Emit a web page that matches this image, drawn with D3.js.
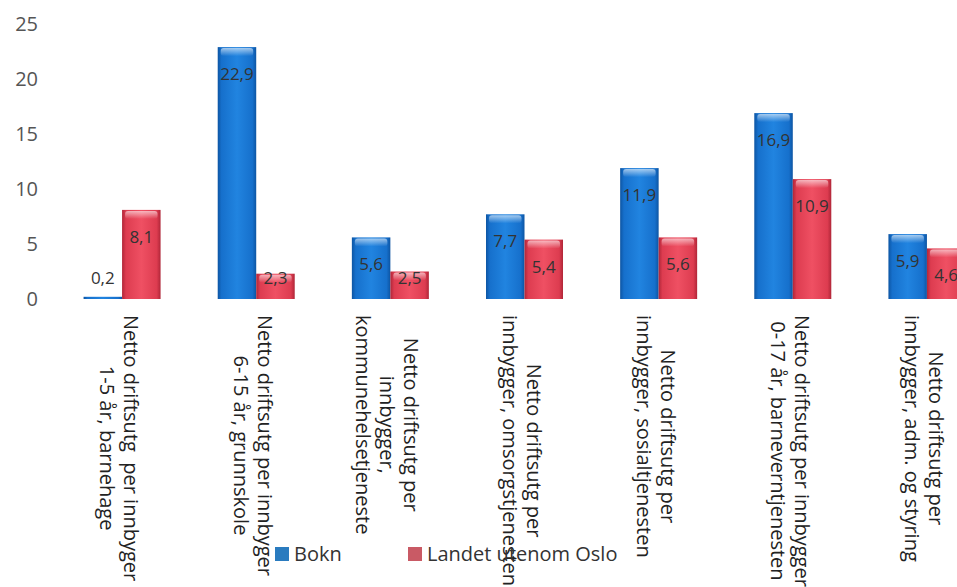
<!DOCTYPE html>
<html><head><meta charset="utf-8">
<script src="https://cdn.jsdelivr.net/npm/d3@7"></script>
<style>
html,body{margin:0;padding:0;background:#fff;overflow:hidden}
svg{display:block}
text{font-family:"Open Sans","Noto Sans",sans-serif;white-space:pre}
</style></head>
<body>
<svg id="chart" width="957" height="587"></svg>
<script>
const categories = [
  ["Netto driftsutg  per innbyger", "1-5 år, barnehage"],
  ["Netto driftsutg per innbyger", "6-15 år, grunnskole"],
  ["Netto driftsutg per", "innbygger,", "kommunehelsetjeneste"],
  ["Netto driftsutg per", "innbygger, omsorgstjenesten"],
  ["Netto driftsutg per", "innbygger, sosialtjenesten"],
  ["Netto driftsutg per innbygger", "0-17 år, barneverntjenesten"],
  ["Netto driftsutg per", "innbygger, adm. og styring"]
];
const seriesNames = ["Bokn", "Landet utenom Oslo"];
const bokn   = [0.2, 22.9, 5.6, 7.7, 11.9, 16.9, 5.9];
const landet = [8.1, 2.3, 2.5, 5.4, 5.6, 10.9, 4.6];
const yTicks = [0, 5, 10, 15, 20, 25];

const svg = d3.select("#chart");
const catIds = categories.map((c, i) => i);
const seriesData = [bokn, landet];

const x0 = d3.scaleBand().domain(catIds).range([55, 994]).paddingInner(0.426).paddingOuter(0.213);
const x1 = d3.scaleBand().domain([0, 1]).range([0, x0.bandwidth()]);
const y = d3.scaleLinear().domain([0, 25]).range([299, 24]);

const locale = d3.formatLocale({decimal: ",", thousands: " ", grouping: [3], currency: ["", ""]});
const fmt = locale.format(".1f");

// gradients
const defs = svg.append("defs");
const grads = [
  {id: "gB", stops: [["0%", "#0d55a3"], ["10%", "#1670cc"], ["50%", "#2184e0"], ["90%", "#1670cc"], ["100%", "#0d55a3"]]},
  {id: "gR", stops: [["0%", "#b02638"], ["10%", "#dd3c50"], ["50%", "#ef5063"], ["90%", "#dd3c50"], ["100%", "#b02638"]]}
];
grads.forEach(g => {
  const lg = defs.append("linearGradient").attr("id", g.id).attr("x1", "0").attr("x2", "1").attr("y1", "0").attr("y2", "0");
  g.stops.forEach(s => lg.append("stop").attr("offset", s[0]).attr("stop-color", s[1]));
});
const hl = defs.append("linearGradient").attr("id", "hl").attr("x1", "0").attr("x2", "0").attr("y1", "0").attr("y2", "1");
hl.append("stop").attr("offset", "0%").attr("stop-color", "#fff").attr("stop-opacity", 0.6);
hl.append("stop").attr("offset", "100%").attr("stop-color", "#fff").attr("stop-opacity", 0);

// y axis labels
const yAxis = d3.axisLeft(y).tickValues(yTicks).tickSize(0).tickPadding(0);
const ga = svg.append("g").attr("transform", "translate(38,0)").call(yAxis);
ga.select(".domain").remove();
ga.selectAll("text").attr("font-size", 20).attr("fill", "#555").style("font-family", '"Open Sans","Noto Sans",sans-serif');

// bars
const fills = ["url(#gB)", "url(#gR)"];
const groups = svg.append("g").selectAll("g").data(catIds).join("g")
  .attr("transform", d => `translate(${x0(d)},0)`);

groups.each(function(ci) {
  const g = d3.select(this);
  [0, 1].forEach(si => {
    const v = seriesData[si][ci];
    const bx = x1(si), bw = x1.bandwidth();
    const top = y(v), h = y(0) - y(v);
    g.append("rect").attr("x", bx).attr("y", top).attr("width", bw).attr("height", Math.max(h, 1))
      .attr("fill", fills[si]);
    if (h > 8) {
      g.append("rect").attr("x", bx + 3).attr("y", top + 1).attr("width", bw - 6).attr("height", 8)
        .attr("rx", 3).attr("fill", "url(#hl)");
    }
    const ly = Math.min(top + 27, 278);
    g.append("text").attr("x", bx + bw / 2).attr("y", ly).attr("dy", "0.35em")
      .attr("text-anchor", "middle").attr("font-size", 17).attr("fill", "#333")
      .text(fmt(v));
  });
});

// category labels (rotated 90° clockwise)
const lineH = 24;
catIds.forEach(ci => {
  const lines = categories[ci];
  const cx = x0(ci) + x0.bandwidth() / 2 - 3;
  const g = svg.append("g").attr("transform", `translate(${cx},315) rotate(90)`);
  const texts = lines.map((ln, li) => g.append("text")
    .attr("y", (li - (lines.length - 1) / 2) * lineH)
    .attr("dy", "0.35em").attr("text-anchor", "middle")
    .attr("font-size", 20).attr("fill", "#222").text(ln));
  const maxLen = d3.max(texts, t => t.node().getComputedTextLength());
  texts.forEach(t => t.attr("x", maxLen / 2));
});

// legend
const legendColors = ["#2a7bbf", "#c95a65"];
const legendX = [275, 408];
seriesNames.forEach((n, i) => {
  svg.append("rect").attr("x", legendX[i]).attr("y", 547).attr("width", 14).attr("height", 14).attr("fill", legendColors[i]);
  svg.append("text").attr("x", legendX[i] + 19).attr("y", 554).attr("dy", "0.35em")
    .attr("font-size", 20).attr("fill", "#333").text(n);
});
</script>
</body></html>
